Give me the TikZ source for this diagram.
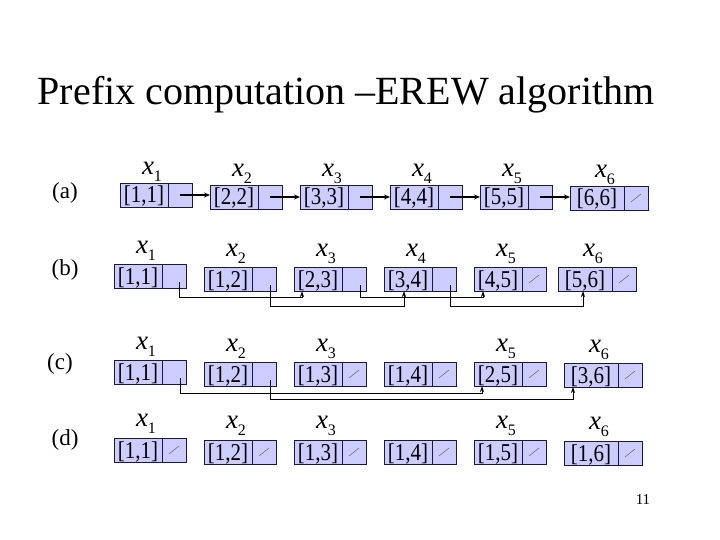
\documentclass[tikz,border=0pt]{standalone}
\usepackage{fontspec}
\usepackage{graphicx}
\setmainfont{Liberation Serif}
\usetikzlibrary{arrows.meta,positioning}

\definecolor{boxfill}{RGB}{204,204,255}
\definecolor{boxline}{RGB}{25,25,60}
\newcommand{\xlab}[1]{\textit{x}\raisebox{-0.6ex}{\fontsize{16}{16}\selectfont #1}}
\newcommand{\pair}[2]{\scalebox{1}[1.15]{[#1,#2]}}

\tikzset{
	cell/.style={draw=boxline, fill=boxfill, minimum width=48pt, minimum height=24pt, inner sep=0pt, outer sep=0pt, text height=18pt, text depth=2pt, font=\fontsize{21}{21}\selectfont},
	lastcell/.style={cell, minimum width=54pt},
	ptr/.style={draw=boxline, fill=boxfill, minimum width=24pt, minimum height=24pt, inner sep=0pt, outer sep=0pt},
	nil/.style={ptr, path picture={\draw[black!55, line width=0.6pt] ([shift={(-5pt,-4pt)}]path picture bounding box.center) -- ([shift={(5pt,4pt)}]path picture bounding box.center);}},
	lbl/.style={font=\fontsize{27}{27}\selectfont, inner sep=0pt},
	row/.style={font=\fontsize{23}{23}\selectfont},
	next/.style={-{Stealth[length=6pt,width=5pt]}, line width=1.4pt},
	jump/.style={-{Stealth[length=6pt,width=4pt]}, line width=0.8pt}
}

\begin{document}
\begin{tikzpicture}[x=1pt,y=-1pt]
	\useasboundingbox (0,0) rectangle (720,540);
	\node (title) at (346,95) {\fontsize{40}{40}\selectfont Prefix computation --EREW algorithm};
	\node (page) at (643,500) {\fontsize{15}{15}\selectfont 11};

	% (a)
	\node[row] (ra) at (65,193) {(a)};
	\node[cell] (a1) at (144,195) {\pair{1}{1}};
	\node[ptr, right=0pt of a1] (a1p) {};
	\node[cell] (a2) at (234,197) {\pair{2}{2}};
	\node[ptr, right=0pt of a2] (a2p) {};
	\node[cell] (a3) at (324,197) {\pair{3}{3}};
	\node[ptr, right=0pt of a3] (a3p) {};
	\node[cell] (a4) at (414,197) {\pair{4}{4}};
	\node[ptr, right=0pt of a4] (a4p) {};
	\node[cell] (a5) at (504,197) {\pair{5}{5}};
	\node[ptr, right=0pt of a5] (a5p) {};
	\node[lastcell] (a6) at (597,198) {\pair{6}{6}};
	\node[nil, right=0pt of a6] (a6p) {};
	\node[lbl, above=1pt of a1.north, xshift=8pt] (la1) {\xlab{1}};
	\node[lbl, above=1pt of a2.north, xshift=8pt] (la2) {\xlab{2}};
	\node[lbl, above=1pt of a3.north, xshift=8pt] (la3) {\xlab{3}};
	\node[lbl, above=1pt of a4.north, xshift=8pt] (la4) {\xlab{4}};
	\node[lbl, above=1pt of a5.north, xshift=8pt] (la5) {\xlab{5}};
	\node[lbl, above=1pt of a6.north, xshift=8pt] (la6) {\xlab{6}};
	\draw[next] (a1p.center) -- (a1p.center -| a2.west);
	\draw[next] (a2p.center) -- (a2p.center -| a3.west);
	\draw[next] (a3p.center) -- (a3p.center -| a4.west);
	\draw[next] (a4p.center) -- (a4p.center -| a5.west);
	\draw[next] (a5p.center) -- (a5p.center -| a6.west);

	% (b)
	\node[row] (rb) at (65,270) {(b)};
	\node[cell] (b1) at (138,276) {\pair{1}{1}};
	\node[ptr, right=0pt of b1] (b1p) {};
	\node[cell] (b2) at (228,279) {\pair{1}{2}};
	\node[ptr, right=0pt of b2] (b2p) {};
	\node[cell] (b3) at (318,279) {\pair{2}{3}};
	\node[ptr, right=0pt of b3] (b3p) {};
	\node[cell] (b4) at (408,279) {\pair{3}{4}};
	\node[ptr, right=0pt of b4] (b4p) {};
	\node[cell] (b5) at (498,279) {\pair{4}{5}};
	\node[nil, right=0pt of b5] (b5p) {};
	\node[lastcell] (b6) at (585,279) {\pair{5}{6}};
	\node[nil, right=0pt of b6] (b6p) {};
	\node[lbl, above=3pt of b1.north, xshift=8pt] (lb1) {\xlab{1}};
	\node[lbl, above=3pt of b2.north, xshift=8pt] (lb2) {\xlab{2}};
	\node[lbl, above=3pt of b3.north, xshift=8pt] (lb3) {\xlab{3}};
	\node[lbl, above=3pt of b4.north, xshift=8pt] (lb4) {\xlab{4}};
	\node[lbl, above=3pt of b5.north, xshift=8pt] (lb5) {\xlab{5}};
	\node[lbl, above=3pt of b6.north, xshift=8pt] (lb6) {\xlab{6}};
	\draw[jump] ([xshift=5pt,yshift=-6pt]b1p.center) -- ++(0,15) -| ([xshift=8pt]b3.south west);
	\draw[jump] ([xshift=6pt,yshift=-6pt]b2p.center) -- ++(0,21) -| ([xshift=20pt]b4.south west);
	\draw[jump] ([xshift=6pt,yshift=-6pt]b3p.center) -- ++(0,12) -| ([xshift=9pt]b5.south west);
	\draw[jump] ([xshift=6pt,yshift=-6pt]b4p.center) -- ++(0,21) -| ([xshift=25pt]b6.south west);

	% (c)
	\node[row] (rc) at (60,364) {(c)};
	\node[cell] (c1) at (138,372) {\pair{1}{1}};
	\node[ptr, right=0pt of c1] (c1p) {};
	\node[cell] (c2) at (228,374) {\pair{1}{2}};
	\node[ptr, right=0pt of c2] (c2p) {};
	\node[cell] (c3) at (318,374) {\pair{1}{3}};
	\node[nil, right=0pt of c3] (c3p) {};
	\node[cell] (c4) at (408,374) {\pair{1}{4}};
	\node[nil, right=0pt of c4] (c4p) {};
	\node[cell] (c5) at (498,374) {\pair{2}{5}};
	\node[nil, right=0pt of c5] (c5p) {};
	\node[lastcell] (c6) at (591,375) {\pair{3}{6}};
	\node[nil, right=0pt of c6] (c6p) {};
	\node[lbl, above=3pt of c1.north, xshift=8pt] (lc1) {\xlab{1}};
	\node[lbl, above=3pt of c2.north, xshift=8pt] (lc2) {\xlab{2}};
	\node[lbl, above=3pt of c3.north, xshift=8pt] (lc3) {\xlab{3}};
	\node[lbl, above=3pt of c5.north, xshift=8pt] (lc5) {\xlab{5}};
	\node[lbl, above=3pt of c6.north, xshift=8pt] (lc6) {\xlab{6}};
	\draw[jump] ([xshift=6pt,yshift=-6pt]c1p.center) -- ++(0,15) -| ([xshift=8pt]c5.south west);
	\draw[jump] ([xshift=6pt,yshift=-6pt]c2p.center) -- ++(0,19) -| ([xshift=9pt]c6.south west);

	% (d)
	\node[row] (rd) at (65,440) {(d)};
	\node[cell] (d1) at (138,450) {\pair{1}{1}};
	\node[nil, right=0pt of d1] (d1p) {};
	\node[cell] (d2) at (228,452) {\pair{1}{2}};
	\node[nil, right=0pt of d2] (d2p) {};
	\node[cell] (d3) at (318,452) {\pair{1}{3}};
	\node[nil, right=0pt of d3] (d3p) {};
	\node[cell] (d4) at (408,452) {\pair{1}{4}};
	\node[nil, right=0pt of d4] (d4p) {};
	\node[cell] (d5) at (498,452) {\pair{1}{5}};
	\node[nil, right=0pt of d5] (d5p) {};
	\node[lastcell] (d6) at (591,453) {\pair{1}{6}};
	\node[nil, right=0pt of d6] (d6p) {};
	\node[lbl, above=4pt of d1.north, xshift=8pt] (ld1) {\xlab{1}};
	\node[lbl, above=4pt of d2.north, xshift=8pt] (ld2) {\xlab{2}};
	\node[lbl, above=4pt of d3.north, xshift=8pt] (ld3) {\xlab{3}};
	\node[lbl, above=4pt of d5.north, xshift=8pt] (ld5) {\xlab{5}};
	\node[lbl, above=4pt of d6.north, xshift=8pt] (ld6) {\xlab{6}};
\end{tikzpicture}
\end{document}
